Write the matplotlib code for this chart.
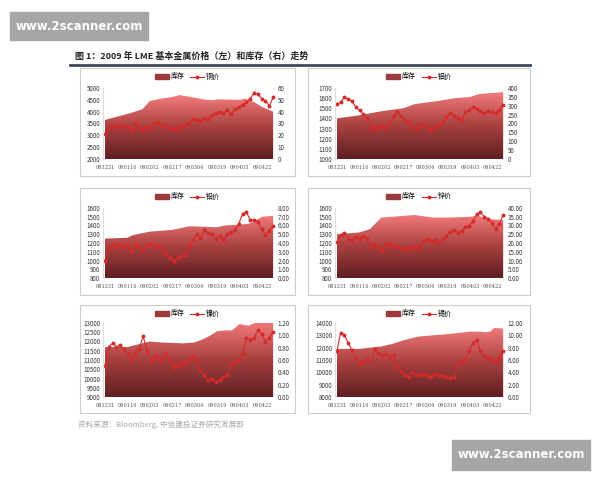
import matplotlib.pyplot as plt
import numpy as np
from matplotlib.patches import Rectangle
from matplotlib.lines import Line2D
from matplotlib.colors import LinearSegmentedColormap

plt.rcParams['font.family'] = ['Noto Sans CJK SC', 'DejaVu Sans']

tick_pos = [0, 12, 24, 36, 48, 60, 72, 84]
tick_labels = ['081231', '090116', '090202', '090217', '090304', '090319', '090403', '090422']

metals = ['铜价', '铝价', '铅价', '锌价', '镍价', '锡价']

copper_price = [3050, 3300, 3400, 3350, 3450, 3350, 3400, 3200, 3500, 3300, 3250, 3350, 3300, 3500, 3550,
                3450, 3400, 3300, 3250, 3300, 3450, 3400, 3500, 3700, 3650, 3600, 3750, 3700, 3850, 3950,
                4000, 3950, 4050, 3900, 4100, 4200, 4300, 4400, 4550, 4800, 4750, 4550, 4450, 4250, 4600]
alu_price = [1540, 1560, 1610, 1590, 1570, 1510, 1480, 1440, 1400, 1310, 1320, 1300, 1330, 1310, 1350,
             1420, 1460, 1420, 1380, 1360, 1320, 1300, 1340, 1350, 1310, 1290, 1320, 1340, 1360, 1410,
             1450, 1420, 1400, 1380, 1460, 1480, 1510, 1490, 1470, 1450, 1470, 1460, 1450, 1480, 1530]
lead_price = [1000, 1150, 1180, 1170, 1190, 1160, 1170, 1100, 1190, 1150, 1120, 1180, 1190, 1160, 1170,
              1130, 1080, 1030, 1000, 1030, 1050, 1060, 1180, 1230, 1300, 1260, 1350, 1320, 1300, 1250,
              1280, 1230, 1300, 1330, 1350, 1420, 1530, 1560, 1460, 1460, 1440, 1360, 1290, 1340, 1400]
zinc_price = [1210, 1290, 1320, 1250, 1230, 1270, 1250, 1280, 1250, 1150, 1190, 1150, 1110, 1180, 1190,
              1170, 1160, 1140, 1120, 1130, 1150, 1140, 1160, 1230, 1250, 1220, 1230, 1200, 1250, 1280,
              1330, 1350, 1320, 1340, 1380, 1400, 1450, 1530, 1550, 1500, 1480, 1430, 1360, 1420, 1520]
nickel_price = [10700, 11700, 11900, 11700, 11800, 11600, 11300, 11000, 11400, 11600, 12300, 11500, 10900,
                11200, 11100, 11000, 11300, 11000, 10600, 10700, 10900, 10800, 11000, 11200, 11000, 10400,
                10200, 9900, 10000, 9800, 9900, 10100, 10200, 10800, 10900, 11000, 11300, 12200, 12100,
                12200, 12600, 12400, 12000, 12200, 12500]
tin_price = [11700, 13200, 13000, 12400, 11800, 11200, 10700, 10800, 11100, 10900, 11900, 11600, 11400,
             11500, 11200, 11400, 10400, 10100, 9800, 9600, 10000, 9800, 9800, 9900, 9700, 9600, 9900,
             9800, 9700, 9600, 9500, 9600, 10700, 10900, 11000, 11700, 12400, 12600, 11700, 11300, 11200,
             11000, 10900, 11200, 11700]

# inventory (right axis), day positions and values
copper_inv_x = [0, 12, 20, 24, 30, 36, 40, 44, 54, 58, 60, 72, 75, 80, 84, 90]
copper_inv = [33, 38, 42, 49, 51, 52.4, 54, 53, 50, 49.6, 50.4, 50, 51, 48, 44, 40]
alu_inv_x = [0, 12, 24, 36, 42, 54, 64, 72, 77, 90]
alu_inv = [229, 246, 269, 286, 309, 326, 343, 349, 366, 377]
lead_inv_x = [0, 12, 15, 24, 36, 45, 48, 60, 64, 72, 77, 80, 84, 90]
lead_inv = [4.5, 4.6, 4.9, 5.3, 5.5, 5.9, 5.9, 5.8, 6.0, 6.1, 6.2, 6.5, 7.0, 7.1]
zinc_inv_x = [0, 12, 18, 24, 36, 42, 52, 60, 72, 77, 80, 90]
zinc_inv = [25, 26, 28, 34.5, 35.5, 36, 34.5, 34.5, 35, 35.5, 34, 33]
nickel_inv_x = [0, 12, 24, 30, 42, 48, 52, 56, 60, 64, 68, 72, 77, 80, 84, 90]
nickel_inv = [0.81, 0.81, 0.9, 0.885, 0.87, 0.885, 0.93, 0.99, 1.065, 1.08, 1.08, 1.185, 1.155, 1.2, 1.2, 1.23]
tin_inv_x = [0, 12, 24, 30, 36, 44, 52, 60, 72, 77, 80, 83, 85, 90]
tin_inv = [7.8, 7.8, 8.2, 8.6, 9.2, 9.8, 10, 10.2, 10.6, 10.6, 10.5, 10.6, 11.2, 11.1]

prices = [copper_price, alu_price, lead_price, zinc_price, nickel_price, tin_price]
inv_xs = [copper_inv_x, alu_inv_x, lead_inv_x, zinc_inv_x, nickel_inv_x, tin_inv_x]
invs = [copper_inv, alu_inv, lead_inv, zinc_inv, nickel_inv, tin_inv]
left_lims = [(2000, 5000, 500), (1000, 1700, 100), (800, 1600, 100), (800, 1600, 100),
             (9000, 13000, 500), (8000, 14000, 1000)]
right_lims = [(0, 60, 10, '%d'), (0, 400, 50, '%d'), (0, 8, 1, '%.2f'), (0, 40, 5, '%.2f'),
              (0, 1.2, 0.2, '%.2f'), (0, 12, 2, '%.2f')]

cmap = LinearSegmentedColormap.from_list('inv', ['#5e1f22', '#a8403f', '#f47c7c'])

fig = plt.figure(figsize=(6, 4.8), dpi=100)

# watermarks and title
fig.patches.append(Rectangle((10 / 600, 1 - 40 / 480), 138 / 600, 28 / 480, transform=fig.transFigure,
                             color='#a6a6a6'))
fig.text(79 / 600, 1 - 26 / 480, 'www.2scanner.com', color='white', fontsize=8.5, fontweight='bold',
         ha='center', va='center', family='DejaVu Sans')
fig.patches.append(Rectangle((452 / 600, 1 - 470 / 480), 138 / 600, 30 / 480, transform=fig.transFigure,
                             color='#a6a6a6'))
fig.text(521 / 600, 1 - 455 / 480, 'www.2scanner.com', color='white', fontsize=8.5, fontweight='bold',
         ha='center', va='center', family='DejaVu Sans')
fig.text(75 / 600, 1 - 56 / 480, '图 1：2009 年 LME 基本金属价格（左）和库存（右）走势', fontsize=6.5,
         fontweight='bold', va='center', color='#222222')
fig.add_artist(Line2D([70 / 600, 530 / 600], [1 - 65 / 480] * 2, color='#3d4b5a', lw=2))
fig.text(78 / 600, 1 - 425 / 480, '资料来源：Bloomberg, 中信建投证券研究发展部', fontsize=5.5,
         color='#aaaaaa', style='italic', va='center')

box_rows = [(68, 176), (188, 295), (305, 413)]
box_cols = [(80, 295), (308, 530)]
ax_rows = [(88, 159), (208, 278), (323, 397)]
ax_cols = [(103, 275), (335, 505)]

price_x = np.linspace(0, 90, 45)

for i in range(6):
    r, c = divmod(i, 2)
    by0, by1 = box_rows[r]
    bx0, bx1 = box_cols[c]
    fig.patches.append(Rectangle((bx0 / 600, 1 - by1 / 480), (bx1 - bx0) / 600, (by1 - by0) / 480,
                                 transform=fig.transFigure, fill=False, ec='#cccccc', lw=0.8))
    ay0, ay1 = ax_rows[r]
    ax0, ax1x = ax_cols[c]
    ax = fig.add_axes([ax0 / 600, 1 - ay1 / 480, (ax1x - ax0) / 600, (ay1 - ay0) / 480])
    ax2 = ax.twinx()

    lo, hi, st, fmt = right_lims[i]
    poly = ax2.fill_between(inv_xs[i], invs[i], lo, color='none')
    grad = np.linspace(0, 1, 256).reshape(-1, 1)
    img = ax2.imshow(grad, cmap=cmap, origin='lower', aspect='auto',
                     extent=[0, 90, lo, max(invs[i])])
    img.set_clip_path(poly.get_paths()[0], transform=ax2.transData)
    ax2.set_ylim(lo, hi)
    ax2.set_yticks(np.arange(lo, hi + st / 2, st))
    ax2.set_yticklabels([fmt % v for v in np.arange(lo, hi + st / 2, st)])

    llo, lhi, lst = left_lims[i]
    ax.plot(price_x, prices[i], color='#d42a2a', lw=0.8, marker='o', ms=1.8)
    ax.set_ylim(llo, lhi)
    ax.set_yticks(np.arange(llo, lhi + 1, lst))
    ax.set_xlim(-1, 91)
    ax.set_xticks(tick_pos)
    ax.set_xticklabels(tick_labels, family='DejaVu Serif')
    ax.set_zorder(ax2.get_zorder() + 1)
    ax.patch.set_visible(False)

    for a in (ax, ax2):
        a.tick_params(labelsize=4.5, length=0, pad=2, colors='#333333')
        for s in a.spines.values():
            s.set_visible(False)
    ax.tick_params(axis='x', labelsize=3.6, pad=4, colors='#555555')
    ax.spines['left'].set_visible(True)
    ax.spines['left'].set_color('#dddddd')

    handles = [Rectangle((0, 0), 1, 1, color='#9a3a3a'),
               Line2D([], [], color='#d42a2a', lw=0.8, marker='o', ms=1.8)]
    fig.legend(handles, ['库存', metals[i]], loc='center',
               bbox_to_anchor=((bx0 + bx1) / 2 / 600, 1 - (by0 + 9) / 480), ncol=2, frameon=False,
               prop={'size': 5}, handlelength=2, columnspacing=0.8, handletextpad=0.3)

fig.savefig('out.png', dpi=100)
